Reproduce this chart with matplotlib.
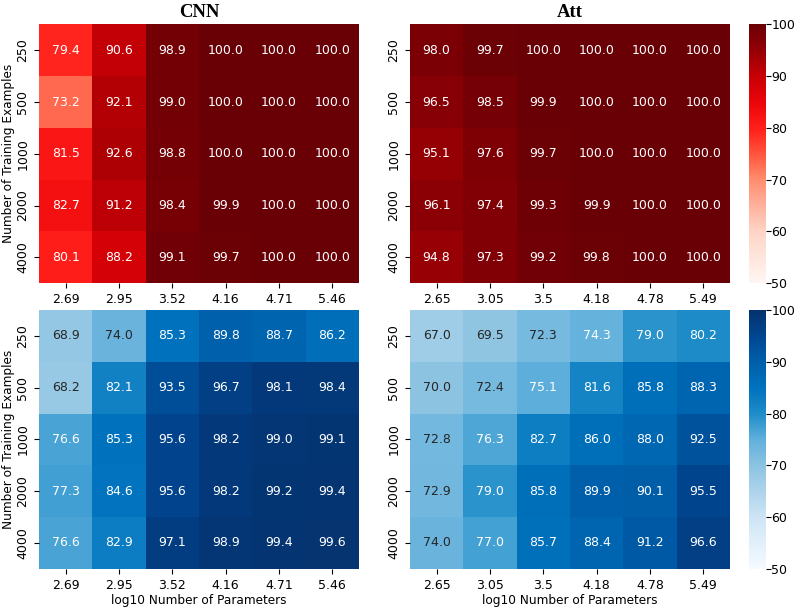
import matplotlib
matplotlib.use("Agg")
import matplotlib.pyplot as plt
from matplotlib.colors import LinearSegmentedColormap, Normalize
import seaborn as sns
import numpy as np
from seaborn.utils import relative_luminance

train_sizes = ["250", "500", "1000", "2000", "4000"]
cnn_params = ["2.69", "2.95", "3.52", "4.16", "4.71", "5.46"]
att_params = ["2.65", "3.05", "3.5", "4.18", "4.78", "5.49"]

cnn_top = [
    [79.4, 90.6, 98.9, 100.0, 100.0, 100.0],
    [73.2, 92.1, 99.0, 100.0, 100.0, 100.0],
    [81.5, 92.6, 98.8, 100.0, 100.0, 100.0],
    [82.7, 91.2, 98.4, 99.9, 100.0, 100.0],
    [80.1, 88.2, 99.1, 99.7, 100.0, 100.0],
]
att_top = [
    [98.0, 99.7, 100.0, 100.0, 100.0, 100.0],
    [96.5, 98.5, 99.9, 100.0, 100.0, 100.0],
    [95.1, 97.6, 99.7, 100.0, 100.0, 100.0],
    [96.1, 97.4, 99.3, 99.9, 100.0, 100.0],
    [94.8, 97.3, 99.2, 99.8, 100.0, 100.0],
]
cnn_bottom = [
    [68.9, 74.0, 85.3, 89.8, 88.7, 86.2],
    [68.2, 82.1, 93.5, 96.7, 98.1, 98.4],
    [76.6, 85.3, 95.6, 98.2, 99.0, 99.1],
    [77.3, 84.6, 95.6, 98.2, 99.2, 99.4],
    [76.6, 82.9, 97.1, 98.9, 99.4, 99.6],
]
att_bottom = [
    [67.0, 69.5, 72.3, 74.3, 79.0, 80.2],
    [70.0, 72.4, 75.1, 81.6, 85.8, 88.3],
    [72.8, 76.3, 82.7, 86.0, 88.0, 92.5],
    [72.9, 79.0, 85.8, 89.9, 90.1, 95.5],
    [74.0, 77.0, 85.7, 88.4, 91.2, 96.6],
]

def mkcmap(name, stops):
    return LinearSegmentedColormap.from_list(
        name, [(p, tuple(c / 255 for c in rgb)) for p, rgb in stops])

red_cmap = mkcmap("vivid_reds", [
    (0.0, (255, 246, 242)), (0.2, (254, 212, 198)), (0.4, (255, 140, 110)),
    (0.5, (255, 85, 60)), (0.6, (255, 30, 25)), (0.7, (235, 5, 10)),
    (0.8, (200, 0, 5)), (0.9, (150, 0, 5)), (1.0, (105, 0, 5))])
blue_cmap = mkcmap("vivid_blues", [
    (0.0, (245, 250, 255)), (0.2, (205, 228, 245)), (0.4, (140, 195, 225)),
    (0.5, (95, 175, 220)), (0.6, (30, 140, 200)), (0.7, (0, 115, 190)),
    (0.8, (0, 95, 170)), (0.9, (0, 70, 145)), (1.0, (5, 50, 110))])

fig = plt.figure(figsize=(7.96, 6.09), dpi=100)

lx, rx, w = 0.049, 0.515, 0.402
ty, by, h = 0.535, 0.066, 0.425
cbx, cbw = 0.941, 0.021

ax1 = fig.add_axes([lx, ty, w, h])
ax2 = fig.add_axes([rx, ty, w, h])
ax3 = fig.add_axes([lx, by, w, h])
ax4 = fig.add_axes([rx, by, w, h])
cax_top = fig.add_axes([cbx, ty, cbw, h])
cax_bot = fig.add_axes([cbx, by, cbw, h])

FS = 9
norm = Normalize(50, 100)
kw = dict(vmin=50, vmax=100, annot=True, fmt=".1f", annot_kws={"fontsize": FS})

panels = [
    (ax1, cnn_top, "Reds", red_cmap, None, cnn_params),
    (ax2, att_top, "Reds", red_cmap, cax_top, att_params),
    (ax3, cnn_bottom, "Blues", blue_cmap, None, cnn_params),
    (ax4, att_bottom, "Blues", blue_cmap, cax_bot, att_params),
]
for ax, data, base, cm, cax, xl in panels:
    arr = np.array(data)
    sns.heatmap(arr, ax=ax, cmap=cm, cbar=cax is not None,
                cbar_ax=cax, xticklabels=xl, yticklabels=train_sizes, **kw)
    # text colour chosen as seaborn would for the standard colormap
    base_cm = plt.get_cmap(base)
    for t, v in zip(ax.texts, arr.flat):
        lum = relative_luminance(base_cm(norm(v)))
        t.set_color(".15" if lum > .408 else "w")
    ax.tick_params(labelsize=FS)
    ax.set_yticklabels(train_sizes, rotation=90, va="center")
    ax.set_xticklabels(xl, rotation=0)

for cax in (cax_top, cax_bot):
    cax.tick_params(labelsize=FS, pad=0.5, length=3.5)

ax1.set_title("CNN", fontsize=13.5, fontweight="bold", family="Liberation Serif", pad=5)
ax2.set_title("Att", fontsize=13.5, fontweight="bold", family="Liberation Serif", pad=5)
for ax in (ax1, ax3):
    ax.set_ylabel("Number of Training Examples", fontsize=8.7)
    ax.yaxis.set_label_coords(-0.075, 0.5)
for ax in (ax3, ax4):
    ax.set_xlabel("log10 Number of Parameters", fontsize=8.7, labelpad=2)

fig.savefig("out.png", dpi=100)
